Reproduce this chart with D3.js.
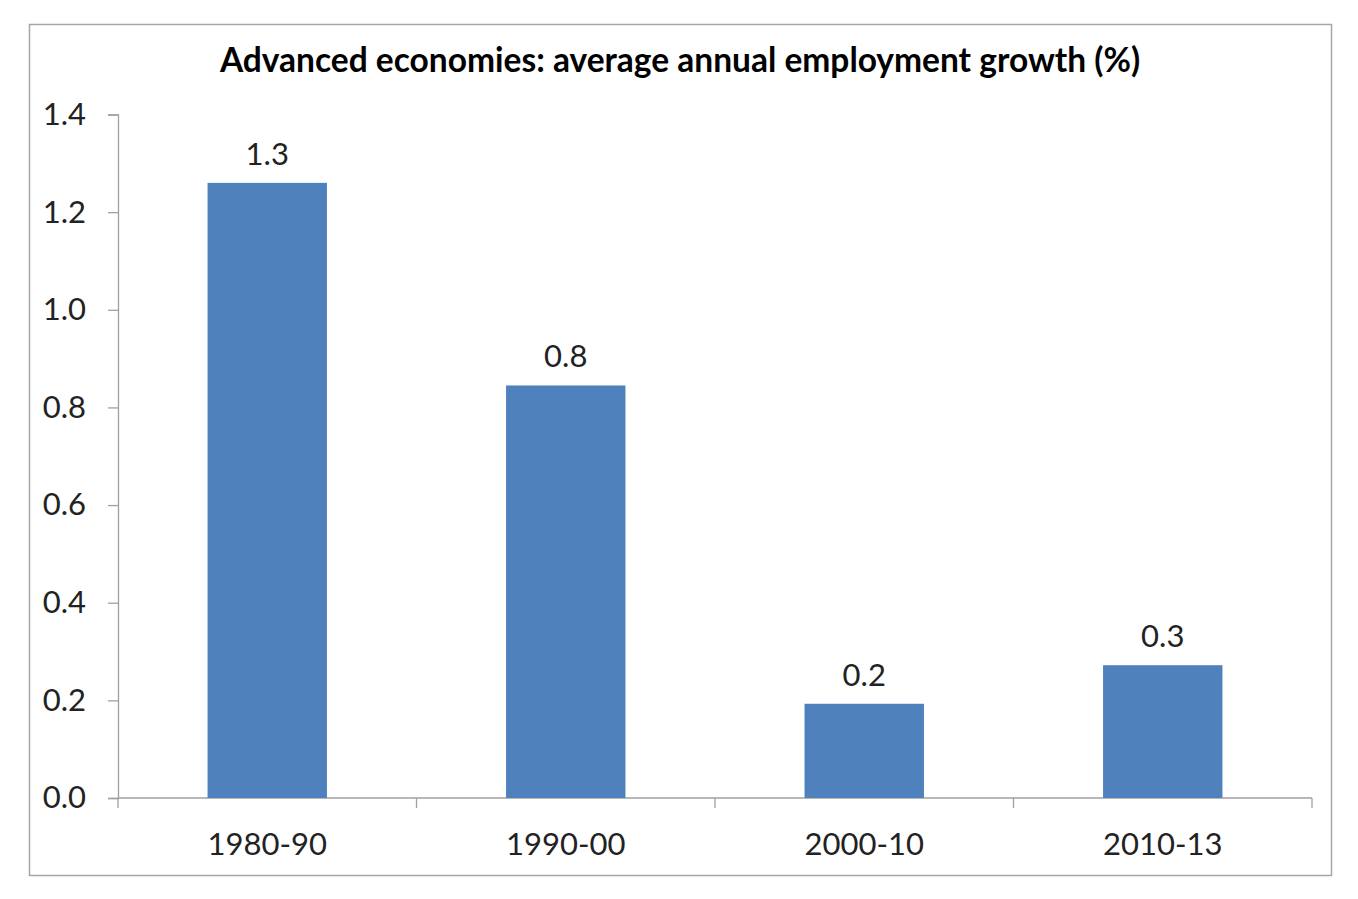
<!DOCTYPE html>
<html><head><meta charset="utf-8">
<script src="https://cdn.jsdelivr.net/npm/d3@7"></script>
<style>body{margin:0;background:#fff;} svg{display:block;}</style>
</head><body>
<svg id="c" width="1358" height="899"></svg>
<script>
const categories = ["1980-90","1990-00","2000-10","2010-13"];
const values = [1.26, 0.845, 0.193, 0.272];
const yTicks = [0,0.2,0.4,0.6,0.8,1.0,1.2,1.4];
const title = "Advanced economies: average annual employment growth (%)";

const svg = d3.select("#c");
const font = "Lato, 'Open Sans', sans-serif";
svg.append("rect").attr("x",29.5).attr("y",24.5).attr("width",1302).attr("height",851)
  .attr("fill","#fff").attr("stroke","#a6a6a6").attr("stroke-width",1.5);

const x = d3.scaleBand().domain(categories).range([118,1312]).paddingInner(0.6).paddingOuter(0.3);
const y = d3.scaleLinear().domain([0,1.4]).range([798,114.5]);

svg.append("text").attr("x",680).attr("y",72).attr("text-anchor","middle")
  .attr("font-family",font).attr("font-weight","bold").attr("font-size",33.5).attr("fill","#000").text(title);

const yAxis = svg.append("g").attr("transform","translate(118,0)")
  .call(d3.axisLeft(y).tickValues(yTicks).tickFormat(d3.format(".1f")).tickSize(10).tickPadding(22));
yAxis.selectAll("text").attr("font-family",font).attr("font-size",31).attr("fill","#222");
yAxis.selectAll("line,path").attr("stroke","#a0a0a0").attr("stroke-width",1.3);

const xg = svg.append("g").attr("transform","translate(0,798)");
xg.append("line").attr("x1",118).attr("x2",1312).attr("y1",0).attr("y2",0).attr("stroke","#a0a0a0").attr("stroke-width",1.3);
const bounds = d3.range(categories.length+1).map(i => x.range()[0] + i*(x.range()[1]-x.range()[0])/categories.length);
xg.selectAll(".tk").data(bounds).join("line").attr("x1",d=>d).attr("x2",d=>d).attr("y1",0).attr("y2",10)
  .attr("stroke","#a0a0a0").attr("stroke-width",1.3);
xg.selectAll(".lb").data(categories).join("text").attr("x",d=>x(d)+x.bandwidth()/2).attr("y",57)
  .attr("text-anchor","middle").attr("font-family",font).attr("font-size",31).attr("fill","#222").text(d=>d);

svg.selectAll(".bar").data(categories).join("rect")
  .attr("x",d=>x(d)).attr("width",x.bandwidth())
  .attr("y",(d,i)=>y(values[i])).attr("height",(d,i)=>y(0)-y(values[i]))
  .attr("fill","#4f81bd");

svg.selectAll(".vl").data(categories).join("text")
  .attr("x",d=>x(d)+x.bandwidth()/2).attr("y",(d,i)=>y(values[i])-18)
  .attr("text-anchor","middle").attr("font-family",font).attr("font-size",31).attr("fill","#222")
  .text((d,i)=>d3.format(".1f")(values[i]));
</script>
</body></html>
